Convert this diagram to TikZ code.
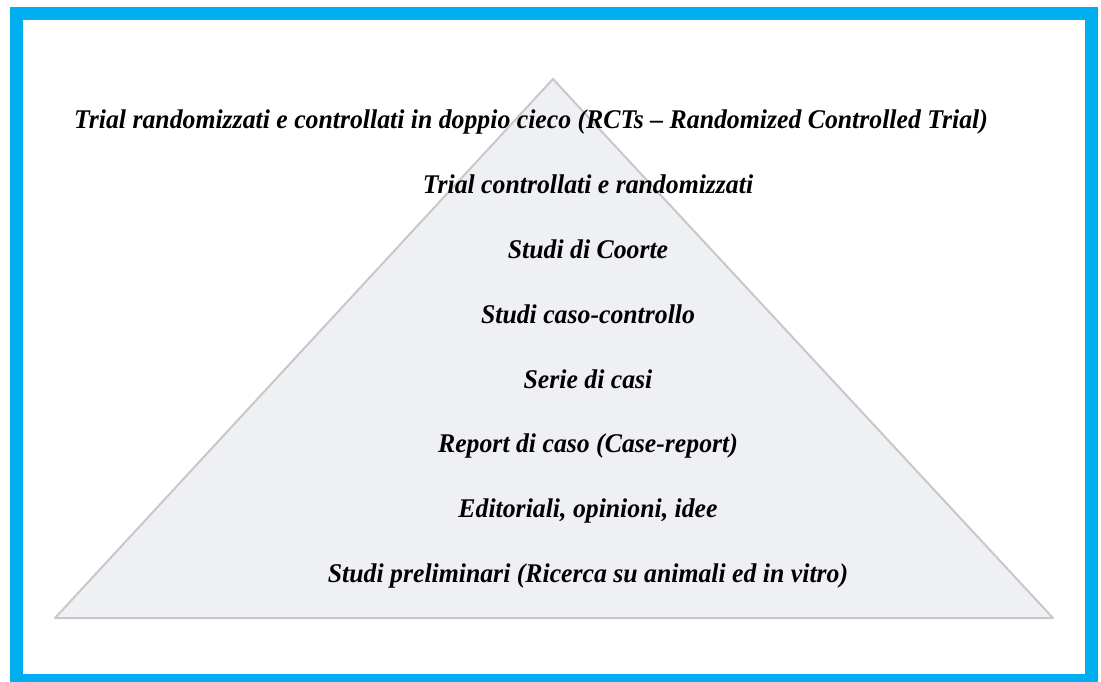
\documentclass[tikz,border=0pt]{standalone}
\usepackage{fontspec}
\setmainfont[FakeStretch=0.954]{Liberation Serif}
\usetikzlibrary{positioning}

\definecolor{framecyan}{RGB}{0, 174, 239}
\definecolor{pyrfill}{RGB}{239, 240, 243}
\definecolor{pyrline}{RGB}{200, 200, 200}

\begin{document}
\begin{tikzpicture}[x=1pt, y=-1pt,
level/.style={anchor=base, inner sep=0pt, font=\fontsize{27}{30}\selectfont\bfseries\itshape}]

% Canvas and frame
\useasboundingbox (0,0) rectangle (1101,681);
\draw[framecyan, line width=13pt] (16.5,13.5) rectangle (1091.5,680.5);

% Pyramid
\coordinate (apex) at (553,79);
\coordinate (left) at (55,618);
\coordinate (right) at (1053,618);
\draw[pyrline, fill=pyrfill, line width=2pt, line join=round] (apex) -- (right) -- (left) -- cycle;

% Levels
\node[level] (rct) at (531,128) {Trial randomizzati e controllati in doppio cieco (RCTs -- Randomized Controlled Trial)};
\node[level] (trial) at (588,193) {Trial controllati e randomizzati};
\node[level] (coorte) at (588,258) {Studi di Coorte};
\node[level] (caso) at (588,323) {Studi caso-controllo};
\node[level] (serie) at (588,388) {Serie di casi};
\node[level] (report) at (588,452) {Report di caso (Case-report)};
\node[level] (edit) at (588,517) {Editoriali, opinioni, idee};
\node[level] (prelim) at (588,582) {Studi preliminari (Ricerca su animali ed in vitro)};

\end{tikzpicture}
\end{document}
